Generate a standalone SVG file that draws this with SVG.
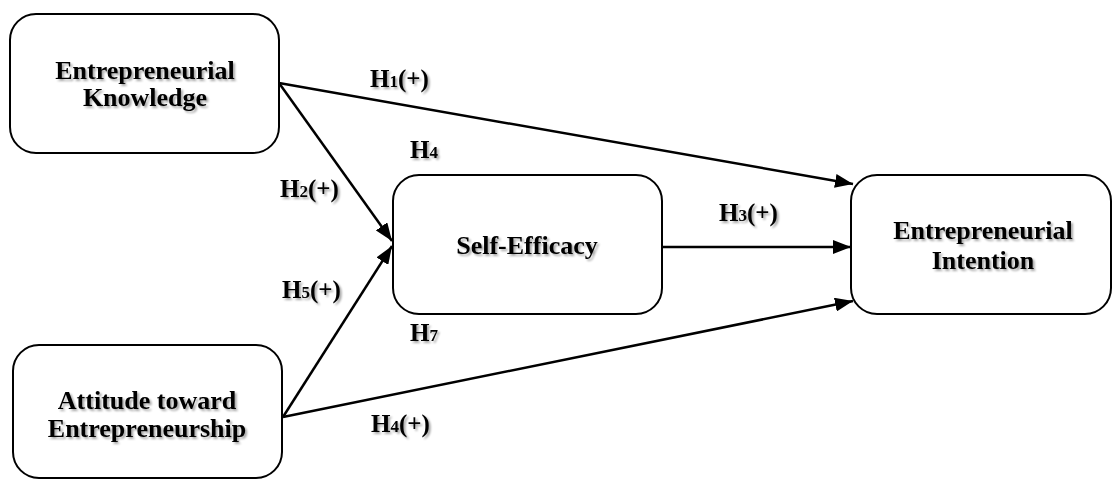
<svg xmlns="http://www.w3.org/2000/svg" width="1113" height="479" viewBox="0 0 1113 479">
<style>
.box{fill:#fff;stroke:#000;stroke-width:2}
.t{font-family:"Liberation Serif","Times New Roman",serif;font-weight:bold;font-size:26px;fill:#000;text-anchor:middle;filter:url(#sh)}
.l{font-family:"Liberation Serif","Times New Roman",serif;font-weight:bold;font-size:25px;fill:#000;filter:url(#sh)}
.s{font-size:17px}
.c{stroke:#000;stroke-width:2.5;fill:none;marker-end:url(#ah)}
</style>
<defs>
<marker id="ah" markerUnits="userSpaceOnUse" markerWidth="19" markerHeight="14" refX="18" refY="7" orient="auto">
<path d="M0,0 L18,7 L0,14 Z" fill="#000"/>
</marker>
<filter id="sh" x="-10%" y="-20%" width="130%" height="160%">
<feGaussianBlur in="SourceAlpha" stdDeviation="1.2"/>
<feOffset dx="1.5" dy="2" result="b"/>
<feComponentTransfer><feFuncA type="linear" slope="0.35"/></feComponentTransfer>
<feMerge><feMergeNode/><feMergeNode in="SourceGraphic"/></feMerge>
</filter>
</defs>
<rect width="1113" height="479" fill="#fff"/>
<g id="connectors">
<line class="c" x1="279" y1="83" x2="853" y2="184"/>
<line class="c" x1="279" y1="83" x2="392" y2="241"/>
<line class="c" x1="283" y1="417" x2="392" y2="246"/>
<line class="c" x1="283" y1="417" x2="853" y2="301"/>
<line class="c" x1="662" y1="247" x2="851" y2="247"/>
<text class="l" x="370" y="87">H<tspan class="s">1</tspan>(+)</text>
<text class="l" x="410" y="158">H<tspan class="s">4</tspan></text>
<text class="l" x="280" y="197">H<tspan class="s">2</tspan>(+)</text>
<text class="l" x="282" y="298">H<tspan class="s">5</tspan>(+)</text>
<text class="l" x="410" y="341">H<tspan class="s">7</tspan></text>
<text class="l" x="371" y="432">H<tspan class="s">4</tspan>(+)</text>
<text class="l" x="719" y="221">H<tspan class="s">3</tspan>(+)</text>
</g>
<g id="node-knowledge">
<rect class="box" x="10" y="14" width="269" height="139" rx="26"/>
<text class="t" x="145" y="79">Entrepreneurial</text>
<text class="t" x="145" y="106">Knowledge</text>
</g>
<g id="node-attitude">
<rect class="box" x="13" y="345" width="269" height="133" rx="26"/>
<text class="t" x="147" y="409">Attitude toward</text>
<text class="t" x="147" y="437">Entrepreneurship</text>
</g>
<g id="node-selfefficacy">
<rect class="box" x="393" y="175" width="269" height="139" rx="26"/>
<text class="t" x="527" y="254">Self-Efficacy</text>
</g>
<g id="node-intention">
<rect class="box" x="851" y="175" width="260" height="139" rx="26"/>
<text class="t" x="983" y="239">Entrepreneurial</text>
<text class="t" x="983" y="269">Intention</text>
</g>
</svg>
